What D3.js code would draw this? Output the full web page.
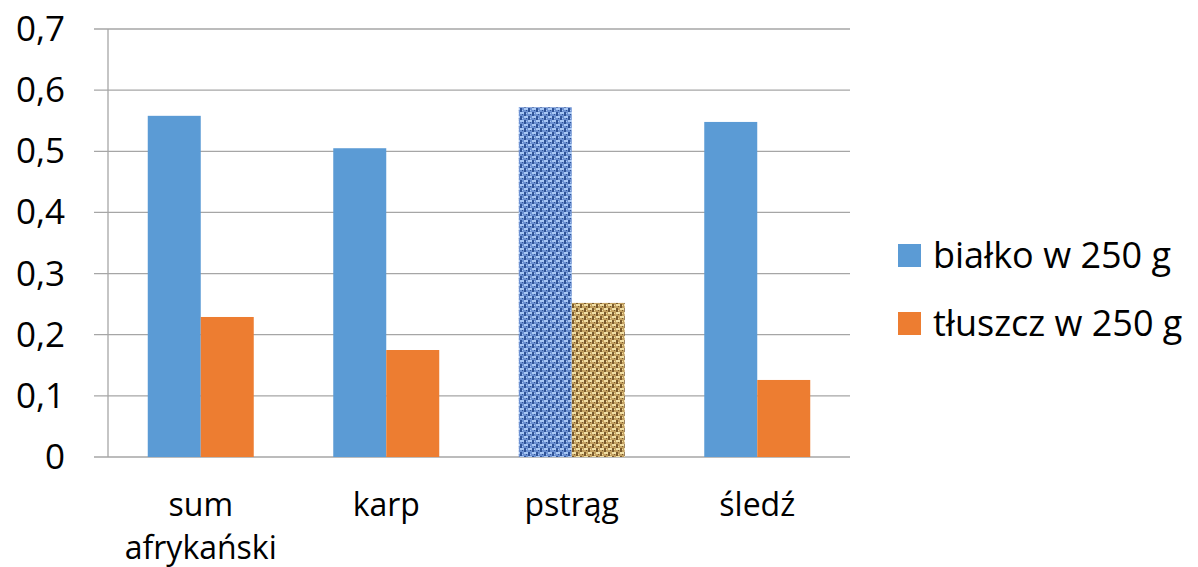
<!DOCTYPE html>
<html><head><meta charset="utf-8">
<script src="https://cdn.jsdelivr.net/npm/d3@7"></script>
<style>body{margin:0;background:#fff}svg{display:block}text{font-family:"Open Sans",sans-serif;fill:#000}</style>
</head><body>
<script>
const categories = ["sum afrykański", "karp", "pstrąg", "śledź"];
const seriesNames = ["białko w 250 g", "tłuszcz w 250 g"];
const bialko = [0.558, 0.505, 0.572, 0.548];
const tluszcz = [0.229, 0.175, 0.252, 0.126];
const yTicks = [0, 0.1, 0.2, 0.3, 0.4, 0.5, 0.6, 0.7];
const colors = ["#5B9BD5", "#ED7D31"];
const patternedCategory = "pstrąg";

const W = 1198, H = 567;
const svg = d3.select("body").append("svg").attr("width", W).attr("height", H);
const m = {left: 108, right: 850, top: 29, bottom: 457};

// textures (woven fabric look)
const defs = svg.append("defs");
function weave(id, base, light, dark) {
  const p = defs.append("pattern").attr("id", id).attr("patternUnits", "userSpaceOnUse")
    .attr("width", 8).attr("height", 8);
  p.append("rect").attr("width", 8).attr("height", 8).attr("fill", base);
  const cells = [
    [0,0,4,2,light],[4,4,4,2,light],[1,6,2,1,light],[5,1,2,1,light],
    [4,0,2,4,dark],[0,4,2,4,dark],[6,6,1,1,dark],[2,2,1,1,dark]
  ];
  cells.forEach(c => p.append("rect").attr("x", c[0]).attr("y", c[1])
    .attr("width", c[2]).attr("height", c[3]).attr("fill", c[4]));
}
weave("denim", "#6c91d2", "#a9c8f5", "#2f5398");
weave("burlap", "#c4a262", "#f2e0a6", "#7a5a2c");

const x0 = d3.scaleBand().domain(categories).range([m.left, m.right]).paddingInner(0.4286).paddingOuter(0.2143);
const x1 = d3.scaleBand().domain([0, 1]).range([0, x0.bandwidth()]);
const y = d3.scaleLinear().domain([0, 0.7]).range([m.bottom, m.top]);

// gridlines
svg.append("g").selectAll("line").data(yTicks).join("line")
  .attr("x1", m.left - 14).attr("x2", m.right)
  .attr("y1", d => y(d)).attr("y2", d => y(d))
  .attr("stroke", "#a6a6a6").attr("stroke-width", 1.3);
// y axis line
svg.append("line").attr("x1", m.left).attr("x2", m.left).attr("y1", m.top).attr("y2", m.bottom)
  .attr("stroke", "#a6a6a6").attr("stroke-width", 1.3);

// y labels
svg.append("g").selectAll("text").data(yTicks).join("text")
  .attr("x", 65).attr("y", d => y(d) + 12)
  .attr("text-anchor", "end").attr("font-size", 35)
  .text(d => d3.format(".1f")(d).replace(".", ",").replace("0,0", "0"));

// bars
const data = categories.map((c, i) => ({c, v: [bialko[i], tluszcz[i]]}));
const g = svg.append("g");
data.forEach(d => {
  d.v.forEach((v, s) => {
    let fill = colors[s];
    if (d.c === patternedCategory) fill = s === 0 ? "url(#denim)" : "url(#burlap)";
    g.append("rect")
      .attr("x", x0(d.c) + x1(s)).attr("width", x1.bandwidth())
      .attr("y", y(v)).attr("height", y(0) - y(v))
      .attr("fill", fill);
  });
});

// x labels
const xl = svg.append("g");
categories.forEach(c => {
  const cx = x0(c) + x0.bandwidth() / 2;
  const words = c.split(" ");
  words.forEach((w, i) => {
    xl.append("text").attr("x", cx).attr("y", 516 + i * 43)
      .attr("text-anchor", "middle").attr("font-size", 32).text(w);
  });
});

// legend
const lg = svg.append("g");
seriesNames.forEach((n, i) => {
  lg.append("rect").attr("x", 898).attr("y", 244 + i * 68).attr("width", 23).attr("height", 23).attr("fill", colors[i]);
  lg.append("text").attr("x", 933).attr("y", 268 + i * 68).attr("font-size", 36).text(n);
});
</script>
</body></html>
